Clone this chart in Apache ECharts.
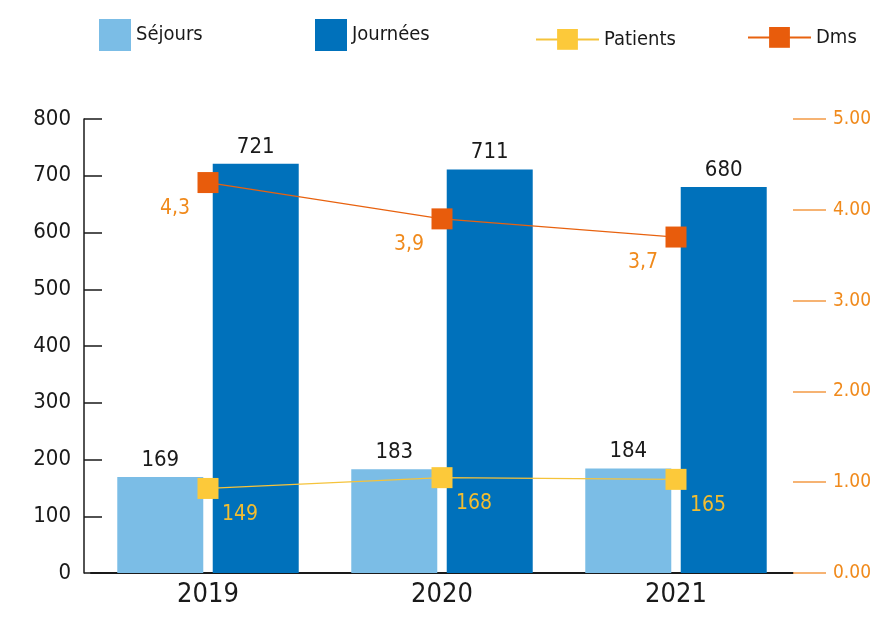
<!DOCTYPE html>
<html>
<head>
<meta charset="utf-8">
<script src="https://cdn.jsdelivr.net/npm/echarts@6/dist/echarts.min.js"></script>
<style>
html, body { margin: 0; padding: 0; background: #fff; }
#container { width: 886px; height: 620px; }
</style>
</head>
<body>
<div id="container"></div>
<script>
let chart = echarts.init(document.getElementById('container'));

var years = ['2019', '2020', '2021'];
var sejours = [169, 183, 184];
var journees = [721, 711, 680];
var patients = [149, 168, 165];
var dms = [4.3, 3.9, 3.7];

var font = '"DejaVu Sans Condensed", "Liberation Sans Narrow", sans-serif';
var legendText = { fontFamily: font, fontSize: 20, color: '#1a1a1a', padding: [8, 0, 0, 0] };

var option = {
    animation: false,
    textStyle: { fontFamily: font },
    legend: [{
        data: ['Séjours'], left: 94, top: 14, icon: 'rect',
        itemWidth: 32, itemHeight: 32, textStyle: legendText
    }, {
        data: ['Journées'], left: 310, top: 14, icon: 'rect',
        itemWidth: 32, itemHeight: 32, textStyle: legendText
    }, {
        data: ['Patients'], left: 530, top: 24,
        itemWidth: 63, itemHeight: 26, textStyle: { fontFamily: font, fontSize: 20, color: '#1a1a1a' }
    }, {
        data: ['Dms'], left: 742, top: 22,
        itemWidth: 63, itemHeight: 26, textStyle: { fontFamily: font, fontSize: 20, color: '#1a1a1a' }
    }],
    grid: {
        left: 91,
        right: 93,
        top: 119,
        bottom: 47,
    },
    xAxis: {
        type: 'category',
        data: years,
        axisLine: { lineStyle: { color: '#1a1a1a', width: 2 } },
        axisTick: { inside: true, length: 11, lineStyle: { color: '#333', width: 1.5 } },
        axisLabel: { fontSize: 27, color: '#1a1a1a', margin: 8 },
    },
    yAxis: [{
        type: 'value',
        min: 0, max: 800, interval: 100,
        offset: 7,
        splitLine: { show: false },
        axisLine: { show: true, lineStyle: { color: '#1a1a1a', width: 1.5 } },
        axisTick: { show: true, inside: true, length: 18, lineStyle: { color: '#1a1a1a', width: 1.5 } },
        axisLabel: { fontSize: 22, color: '#1a1a1a', margin: 13 },
    }, {
        type: 'value',
        position: 'right',
        min: 0, max: 5, interval: 1,
        splitLine: { show: false },
        axisLine: { show: false },
        axisTick: { show: true, length: 33, lineStyle: { color: '#f39a45', width: 1.5 } },
        axisLabel: {
            fontSize: 19, color: '#f08a1c', margin: 40,
            formatter: function(v) { return v.toFixed(2); }
        },
    }],
    series: [{
        name: 'Séjours',
        type: 'bar',
        data: sejours,
        barWidth: 86,
        barGap: '11%',
        itemStyle: { color: '#7bbde6' },
        label: { show: true, position: 'top', distance: 6, fontSize: 22, color: '#1a1a1a' },
    }, {
        name: 'Journées',
        type: 'bar',
        data: journees,
        barWidth: 86,
        itemStyle: { color: '#0071bb' },
        label: { show: true, position: 'top', distance: 6, fontSize: 22, color: '#1a1a1a' },
    }, {
        name: 'Patients',
        type: 'line',
        data: patients,
        symbol: 'rect',
        symbolSize: 21,
        itemStyle: { color: '#fcc93a' },
        lineStyle: { color: '#f5c33b', width: 1.2 },
        label: {
            show: true, position: 'inside', offset: [32, 26],
            fontSize: 21, color: '#f2bd30'
        },
    }, {
        name: 'Dms',
        type: 'line',
        yAxisIndex: 1,
        data: dms,
        symbol: 'rect',
        symbolSize: 21,
        itemStyle: { color: '#e85c0c' },
        lineStyle: { color: '#e8620f', width: 1.2 },
        label: {
            show: true, position: 'inside', offset: [-33, 26],
            fontSize: 21, color: '#f08a1c',
            formatter: function(p) { return String(p.value).replace('.', ','); }
        },
    }]
};

chart.setOption(option);
</script>
</body>
</html>
